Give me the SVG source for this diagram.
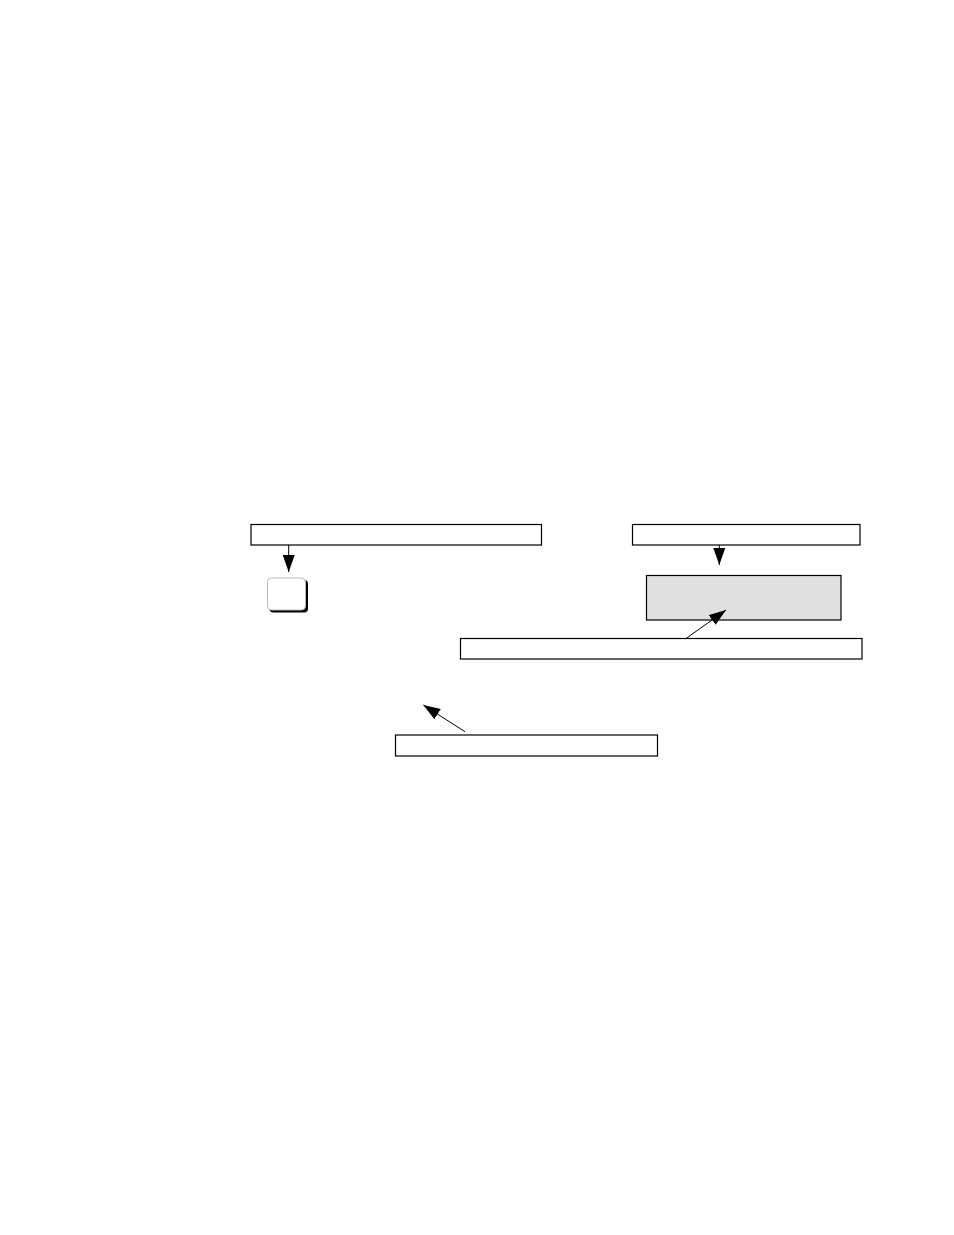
<svg xmlns="http://www.w3.org/2000/svg" width="954" height="1235" viewBox="0 0 954 1235">
<style>
.box{fill:#fff;stroke:#000;stroke-width:1.2}
.conn{stroke:#000;stroke-width:1;fill:none}
</style>
<defs>
<marker id="ah" markerWidth="18" markerHeight="12" refX="17" refY="6" orient="auto" markerUnits="userSpaceOnUse">
<path d="M0,0 L17,6 L0,12 Z" fill="#000"/>
</marker>
</defs>
<rect width="954" height="1235" fill="#fff"/>
<g id="label1"><rect class="box" x="251" y="524.5" width="290.5" height="20.5"/></g>
<g id="label2"><rect class="box" x="632.5" y="524.5" width="227.5" height="20.5"/></g>
<g id="button">
<rect x="269.5" y="580" width="38.5" height="32.5" rx="4" fill="#000"/>
<rect x="267.5" y="578" width="38" height="32" rx="4" fill="#fff" stroke="#bbb" stroke-width="1"/>
</g>
<g id="display"><rect x="646.5" y="575.5" width="194.5" height="44.5" fill="#e0e0e0" stroke="#000" stroke-width="1.2"/></g>
<g id="label3"><rect class="box" x="460.5" y="638.5" width="401.5" height="20.5"/></g>
<g id="label4"><rect class="box" x="395.5" y="735" width="262" height="21"/></g>
<g id="connectors">
<line class="conn" x1="288.7" y1="545" x2="288.7" y2="572" marker-end="url(#ah)"/>
<line class="conn" x1="719.3" y1="545" x2="719.3" y2="565" marker-end="url(#ah)"/>
<line class="conn" x1="686.7" y1="638" x2="726" y2="610" marker-end="url(#ah)"/>
<line class="conn" x1="465" y1="731.7" x2="423.3" y2="705" marker-end="url(#ah)"/>
</g>
</svg>
